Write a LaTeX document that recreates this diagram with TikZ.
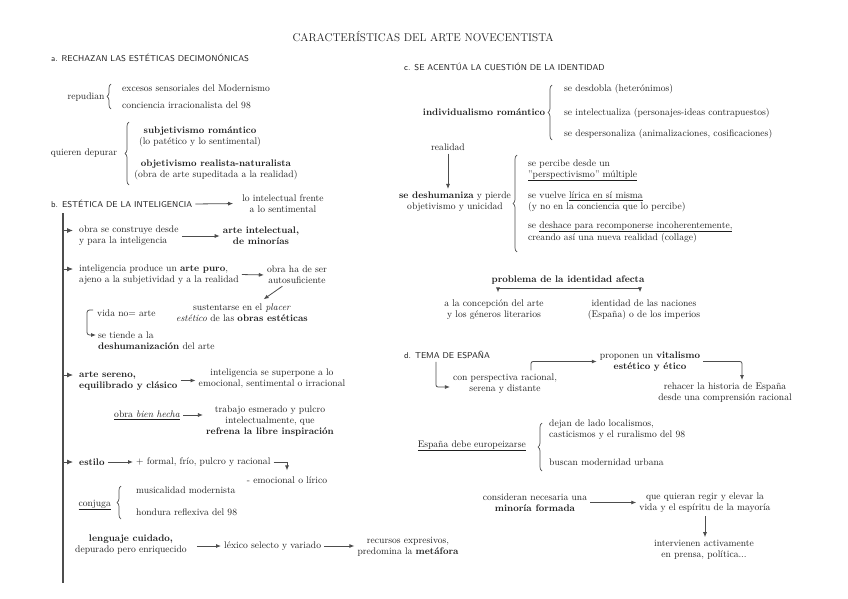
\documentclass[tikz,border=0pt]{standalone}
\usepackage{amsmath}
\usetikzlibrary{calc, positioning}
\usetikzlibrary{arrows.meta}
\usetikzlibrary{decorations.pathreplacing}
\definecolor{ink}{HTML}{1E1E1E}
\definecolor{wire}{HTML}{4D4D4D}

\begin{document}
\begin{tikzpicture}[x=1pt, y=-1pt,
  txt/.style={inner sep=1pt, text=ink, font=\fontsize{9.6}{11}\selectfont, align=center},
  lft/.style={txt, align=left, anchor=west},
  head/.style={inner sep=1pt, text=ink, font=\sffamily\fontsize{8.5}{10}\selectfont, anchor=west},
  arr/.style={draw=wire, line width=0.8pt, -{Latex[length=5pt,width=4pt]}, shorten <=2pt, shorten >=2pt},
  bul/.style={draw=wire, line width=0.8pt, -{Latex[length=6pt,width=5pt]}},
  spine/.style={draw=wire, line width=1.8pt},
  brc/.style={draw=wire, line width=0.7pt, decorate, decoration={brace, amplitude=4pt}}]

\useasboundingbox (0,0) rectangle (848,599);

\node[txt, font=\fontsize{11.2}{13}\selectfont] (title) at (423,37) {CARACTERÍSTICAS DEL ARTE NOVECENTISTA};

% a. rechazan
\node[head] (ahead) at (50,58) {a. RECHAZAN LAS ESTÉTICAS DECIMONÓNICAS};
\node[txt] (repud) at (86,97) {repudian};
\node[lft] (exces) at (121,88) {excesos sensoriales del Modernismo};
\node[lft] (concien) at (121,105) {conciencia irracionalista del 98};
\draw[brc] (111,109) -- (111,84);

\node[txt] (depur) at (84,153) {quieren depurar};
\node[txt] (subj) at (200,136.5) {\textbf{subjetivismo romántico}\\(lo patético y lo sentimental)};
\node[txt] (objet) at (216,169.5) {\textbf{objetivismo realista-naturalista}\\(obra de arte supeditada a la realidad)};
\draw[brc] (129,185) -- (129,122);

% b. estetica de la inteligencia
\node[head] (bhead) at (50,204) {b. ESTÉTICA DE LA INTELIGENCIA};
\node[txt] (lointel) at (283,203.5) {lo intelectual frente\\a lo sentimental};
\draw[arr, shorten >=8pt] (bhead.east) -- (lointel.west);

\coordinate (spinetop) at (63,213);
\coordinate (spinebot) at (63,583);
\draw[spine] (spinetop) -- (spinebot);

\node[lft] (obra) at (78,236) {obra se construye desde\\y para la inteligencia};
\node[txt] (artint) at (261,236) {\textbf{arte intelectual,}\\\textbf{de minorías}};
\draw[arr] (obra.east) -- (artint.west);

\node[lft] (intel) at (78,274.5) {inteligencia produce un \textbf{arte puro},\\ajeno a la subjetividad y a la realidad};
\node[txt] (autos) at (297,275) {obra ha de ser\\autosuficiente};
\node[txt] (sustent) at (242,312.5) {sustentarse en el \textit{placer}\\\textit{estético} de las \textbf{obras estéticas}};
\draw[arr] (intel.east) -- (autos.west);
\draw[arr] ($(autos.south)+(-13,0)$) -- ($(sustent.north)+(20,-2)$);

\node[lft] (vida) at (96,313) {vida no= arte};
\node[lft] (tiende) at (97,340.5) {se tiende a la\\\textbf{deshumanización} del arte};
\draw[arr, rounded corners=2.5pt, shorten <=0pt, shorten >=1pt] ($(vida.west)+(-3,-3)$) -| ($(tiende.west)+(-10,-5.5)$) -- ($(tiende.west)+(0,-5.5)$);

\node[lft] (sereno) at (78,380.5) {\textbf{arte sereno,}\\\textbf{equilibrado y clásico}};
\node[txt] (superp) at (272,378.5) {inteligencia se superpone a lo\\emocional, sentimental o irracional};
\draw[arr] (sereno.east) -- (sereno.east -| superp.west);

\node[lft] (bienhecha) at (113,415) {\underline{obra \textit{bien hecha}}};
\node[txt] (trabajo) at (270,421) {trabajo esmerado y pulcro\\intelectualmente, que\\\textbf{refrena la libre inspiración}};
\draw[arr] (bienhecha.east) -- (bienhecha.east -| trabajo.west);

\node[lft] (estilo) at (78,462) {\textbf{estilo}};
\node[lft] (formal) at (135,462) {+ formal, frío, pulcro y racional};
\node[txt] (emoc) at (287,480) {- emocional o lírico};
\draw[arr] (estilo.east) -- (formal.west);
\draw[arr, shorten >=0pt] (formal.east) -| ($(emoc.north)+(0,-5)$);

\node[txt, anchor=east] (conjuga) at (112,505) {\underline{conjuga}};
\node[lft] (music) at (135,490) {musicalidad modernista};
\node[lft] (hondura) at (135,512) {hondura reflexiva del 98};
\draw[brc] (121,519) -- (121,486);

\node[txt] (lenguaje) at (131,544.5) {\textbf{lenguaje cuidado,}\\depurado pero enriquecido};
\node[lft] (lexico) at (223,546) {léxico selecto y variado};
\node[txt] (recursos) at (408,547) {recursos expresivos,\\predomina la \textbf{metáfora}};
\draw[arr, shorten <=9pt] (lenguaje.east |- lexico.west) -- (lexico.west);
\draw[arr] (lexico.east) -- (lexico.east -| recursos.west);

\foreach \n/\dy in {obra/5.5, intel/5.5, sereno/5.5, estilo/0}
  \draw[bul] ($(spinetop |- \n.west)+(0,-\dy)$) -- ($(\n.west)+(-5,-\dy)$);

% c. identidad
\node[head] (chead) at (403,67) {c. SE ACENTÚA LA CUESTIÓN DE LA IDENTIDAD};
\node[txt] (indiv) at (484,112) {\textbf{individualismo romántico}};
\node[lft] (desdob) at (563,89) {se desdobla (heterónimos)};
\node[lft] (intelec) at (563,113) {se intelectualiza (personajes-ideas contrapuestos)};
\node[lft] (despers) at (563,134) {se despersonaliza (animalizaciones, cosificaciones)};
\draw[brc] (552,140) -- (552,85);

\node[txt] (realidad) at (448,147) {realidad};
\node[txt] (deshum) at (455,202) {\textbf{se deshumaniza} y pierde\\objetivismo y unicidad};
\draw[arr] (realidad.south) -- (realidad.south |- deshum.north);

\node[lft] (percibe) at (527,170.5) {se percibe desde un\\\underline{"perspectivismo" múltiple}};
\node[lft] (vuelve) at (527,202) {se vuelve \underline{lírica en sí misma}\\(y no en la conciencia que lo percibe)};
\node[lft] (deshace) at (527,232) {se \underline{deshace para recomponerse incoherentemente,}\\creando así una nueva realidad (collage)};
\draw[brc] (517,252) -- (517,155);

\node[txt] (prob) at (568,280) {\textbf{problema de la identidad afecta}};
\node[txt] (concep) at (494,309.5) {a la concepción del arte\\y los géneros literarios};
\node[txt] (ident) at (644,309.5) {identidad de las naciones\\(España) o de los imperios};
\coordinate (pj) at ($(prob.south)+(0,3)$);
\draw[arr, shorten <=0pt] (pj) -| ($(concep.north)+(4,-4)$);
\draw[arr, shorten <=0pt] (pj) -| ($(ident.north)+(-4,-4)$);

% d. tema de espana
\node[head] (dhead) at (403,355) {d. TEMA DE ESPAÑA};
\node[txt] (persp) at (505,383.5) {con perspectiva racional,\\serena y distante};
\node[txt] (propon) at (650,361.5) {proponen un \textbf{vitalismo}\\\textbf{estético y ético}};
\node[txt] (rehacer) at (725,393) {rehacer la historia de España\\desde una comprensión racional};
\draw[arr, rounded corners=2pt] ($(dhead.south west)+(33,0)$) |- ($(persp.west)+(0,3.5)$);
\draw[arr, rounded corners=2pt] ($(persp.north)+(26,0)$) |- (propon.west);
\draw[arr, rounded corners=2pt] (propon.east) -| ($(rehacer.north)+(17,0)$);

\node[txt, anchor=east] (espana) at (527,446) {\underline{España debe europeizarse}};
\node[lft] (dejan) at (548,429.5) {dejan de lado localismos,\\casticismos y el ruralismo del 98};
\node[lft] (buscan) at (548,462) {buscan modernidad urbana};
\draw[brc] (542,471) -- (542,423);

\node[txt] (consid) at (535,502.5) {consideran necesaria una\\\textbf{minoría formada}};
\node[txt] (quieran) at (705,503) {que quieran regir y elevar la\\vida y el espíritu de la mayoría};
\node[txt] (interv) at (704,550) {intervienen activamente\\en prensa, política...};
\draw[arr] (consid.east) -- (consid.east -| quieran.west);
\draw[arr] (quieran.south) -- (quieran.south |- interv.north);
\end{tikzpicture}
\end{document}
